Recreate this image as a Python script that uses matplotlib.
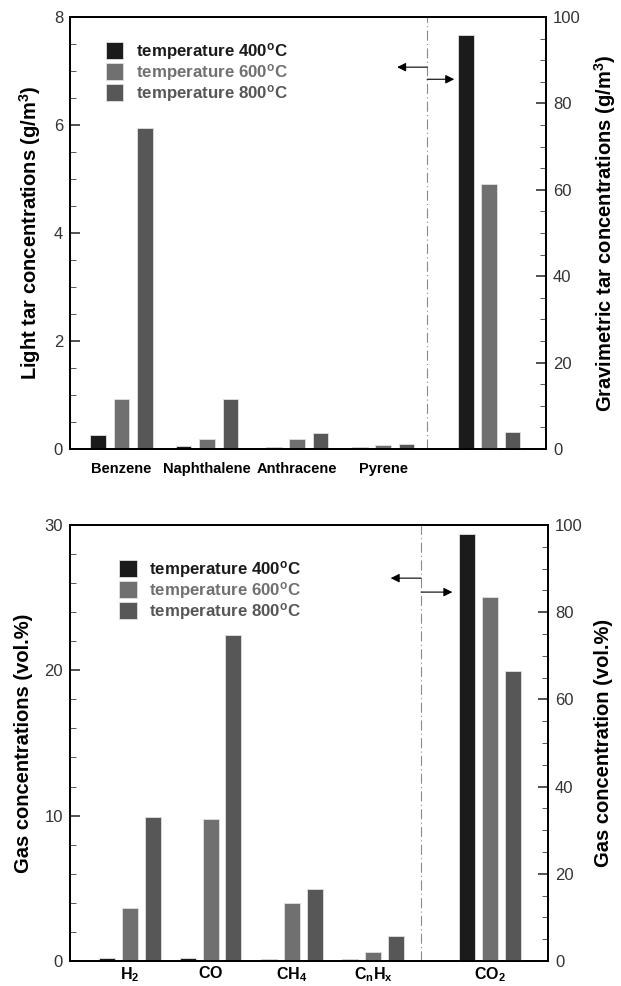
import numpy as np
import matplotlib
matplotlib.use("Agg")
import matplotlib.pyplot as plt
from matplotlib.ticker import MultipleLocator

plt.rcParams['font.family'] = ['Liberation Sans', 'DejaVu Sans']
plt.rcParams['mathtext.fontset'] = 'custom'
plt.rcParams['mathtext.rm'] = 'Liberation Sans'
plt.rcParams['mathtext.bf'] = 'Liberation Sans:bold'
plt.rcParams['mathtext.it'] = 'Liberation Sans:italic'

# --- data -------------------------------------------------------------
temps = ['400', '600', '800']

tar_names = ['Benzene', 'Naphthalene', 'Anthracene', 'Pyrene']
tar_400 = [0.26, 0.055, 0.04, 0.04]
tar_600 = [0.93, 0.18, 0.18, 0.07]
tar_800 = [5.94, 0.92, 0.29, 0.10]
grav_tar = [95.9, 61.3, 4.0]          # 400, 600, 800 (right axis)

gas_names = [r'$\mathbf{H_2}$', r'$\mathbf{CO}$', r'$\mathbf{CH_4}$', r'$\mathbf{C_nH_x}$']
gas_400 = [0.18, 0.18, 0.15, 0.15]
gas_600 = [3.62, 9.75, 3.97, 0.62]
gas_800 = [9.93, 22.4, 4.95, 1.72]
co2 = [97.9, 83.4, 66.4]              # 400, 600, 800 (right axis)

colors = ['#1b1b1b', '#707070', '#575757']

fig = plt.figure(figsize=(6.21, 9.86), dpi=100)


def panel(rect, centers, co2_x, dash_x, width, off, left_vals, right_vals,
          names, right_name, xfs, xpad, ylim_l, maj_l, min_l, ylabel_l, ylabel_r, arrows):
    ax = fig.add_axes(rect)
    ax2 = ax.twinx()
    centers = np.array(centers)
    bars = []
    for i, vals in enumerate(left_vals):
        b = ax.bar(centers + (i - 1) * off, vals, width, color=colors[i],
                   edgecolor='#e0e0e0', linewidth=0.6)
        bars.append(b)
    for i, v in enumerate(right_vals):
        ax2.bar(co2_x + (i - 1) * off, v, width, color=colors[i],
                edgecolor='#e0e0e0', linewidth=0.6)
    ax.set_xlim(0, 5.5)
    ax.set_ylim(*ylim_l)
    ax2.set_ylim(0, 100)
    ax.axvline(dash_x, color='#8a8a8a', lw=0.8, ls=(0, (9, 3, 1, 3)))

    ax.yaxis.set_major_locator(MultipleLocator(maj_l))
    ax.yaxis.set_minor_locator(MultipleLocator(min_l))
    ax2.yaxis.set_major_locator(MultipleLocator(20))
    ax2.yaxis.set_minor_locator(MultipleLocator(5))
    for a in (ax, ax2):
        a.tick_params(axis='y', which='major', direction='in', length=7,
                      width=1.1, labelsize=12, pad=5, colors='#222222')
        a.tick_params(axis='y', which='minor', direction='in', length=4,
                      width=0.7, color='#555555')
        for s in a.spines.values():
            s.set_linewidth(1.3)
    ax.tick_params(axis='y', which='major', labelcolor='#333333')
    ax2.tick_params(axis='y', which='major', labelcolor='#333333')

    ticks = list(centers) + [co2_x]
    ax.set_xticks(ticks)
    ax.set_xticklabels(names + [right_name], fontweight='bold', fontsize=xfs)
    ax.tick_params(axis='x', length=0, pad=xpad)

    ax.set_ylabel(ylabel_l, fontsize=14.5, fontweight='bold', labelpad=8)
    ax2.set_ylabel(ylabel_r, fontsize=14.5, fontweight='bold', labelpad=8)

    # arrows pointing to the respective axes
    for y, x in arrows:
        ax.annotate('', xy=(x, y), xytext=(dash_x, y),
                    xycoords=('data', 'axes fraction'),
                    textcoords=('data', 'axes fraction'),
                    arrowprops=dict(arrowstyle='-|>', mutation_scale=13, lw=0.8,
                                    color='black', shrinkA=0, shrinkB=0))
    return ax, bars


labels = [r'temperature %s$^{\mathbf{o}}$C' % t for t in temps]

# top panel: tar
ax1, bars1 = panel([0.1127, 0.5446, 0.7665, 0.4381],
                   [0.595, 1.584, 2.624, 3.618], 4.844, 4.127, 0.18, 0.27,
                   [tar_400, tar_600, tar_800], grav_tar, tar_names, '', 10.5, 9,
                   (0, 8), 2, 0.5,
                   r'Light tar concentrations (g/m$^\mathbf{3}$)',
                   r'Gravimetric tar concentrations (g/m$^\mathbf{3}$)',
                   [(0.884, 3.78), (0.856, 4.44)])

# bottom panel: gas
ax3, bars3 = panel([0.1127, 0.0254, 0.7697, 0.4422],
                   [0.69, 1.62, 2.555, 3.487], 4.833, 4.04, 0.184, 0.26,
                   [gas_400, gas_600, gas_800], co2, gas_names, r'$\mathbf{CO_2}$', 11.5, 3,
                   (0, 30), 10, 2,
                   r'Gas concentrations (vol.%)',
                   r'Gas concentration (vol.%)',
                   [(0.878, 3.69), (0.846, 4.40)])

for ax, bars, anchor in ((ax1, bars1, (0.075, 0.945)), (ax3, bars3, (0.102, 0.922))):
    leg = ax.legend(bars, labels, loc='upper left', bbox_to_anchor=anchor,
                    frameon=False, prop={'weight': 'bold', 'size': 12.2},
                    handlelength=1.05, handleheight=1.15, labelspacing=0.0,
                    handletextpad=0.75, borderaxespad=0, borderpad=0,
                    labelcolor=colors)

fig.savefig('out.png', dpi=100)
